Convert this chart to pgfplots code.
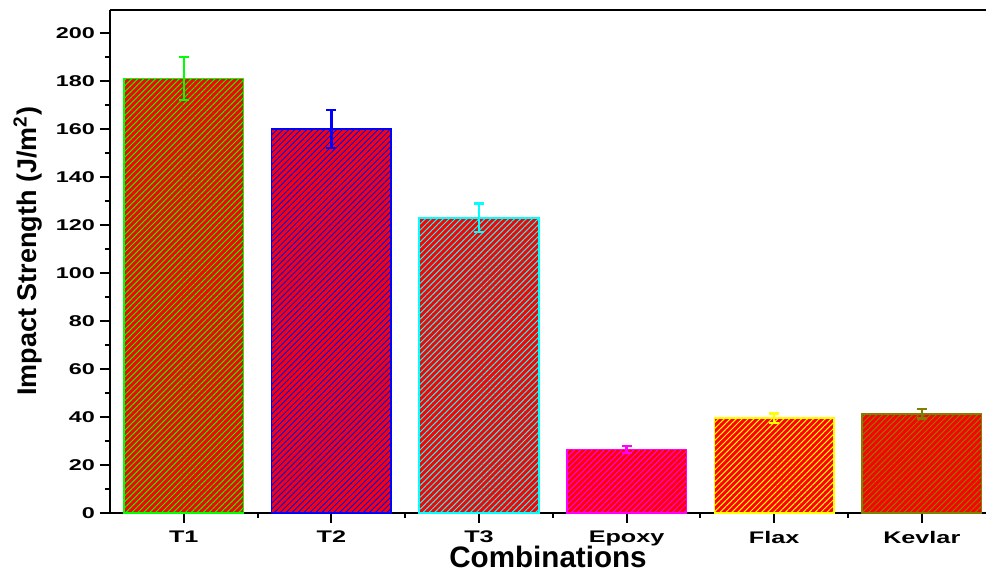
\documentclass[border=0pt]{standalone}
\usepackage{fontspec}
\setmainfont{Liberation Sans}
\newfontfamily\widefont[FakeStretch=1.5]{Liberation Sans}
\usepackage{pgfplots}
\pgfplotsset{compat=1.18}
\usetikzlibrary{patterns.meta}
\definecolor{cgreen}{RGB}{0,255,0}
\definecolor{cblue}{RGB}{0,0,255}
\definecolor{ccyan}{RGB}{0,255,255}
\definecolor{cmag}{RGB}{255,0,255}
\definecolor{cyel}{RGB}{255,255,0}
\definecolor{colive}{RGB}{128,128,0}
\definecolor{cred}{RGB}{255,0,0}
\pgfplotsset{
  hbar/.style={ybar, bar width=0.81, bar shift=0pt, draw=#1, line width=0.8pt, fill=cred,
    postaction={pattern={Lines[angle=45,distance=2.1pt,line width=0.5pt]}, pattern color=#1},
    error bars/.cd, y dir=both, y explicit,
    error bar style={draw=#1, line width=1.2pt},
    error mark options={rotate=90, draw=#1, line width=1.2pt, mark size=2.5pt}},
}
\begin{document}
\begin{tikzpicture}
\path[use as bounding box] (-55pt,-30pt) rectangle (438.5pt,256.5pt);
\begin{axis}[
  at={(0,0)}, anchor=south west,
  scale only axis, width=438pt, height=251.5pt,
  xmin=-0.5, xmax=5.435, ymin=0, ymax=209.6,
  axis x line*=bottom, axis y line*=left,
  axis line style={line width=1pt},
  tick align=outside,
  major tick length=5pt, minor tick length=2.5pt,
  every tick/.style={line width=1pt, black},
  ytick={0,20,...,200}, minor ytick={10,30,...,190},
  xtick={0,1,2,3,4,5}, minor xtick={0.5,1.5,...,4.5},
  xticklabels={T1,T2,T3,Epoxy,Flax,Kevlar},
  /pgf/number format/assume math mode=true,
  yticklabel style={font=\widefont\fontsize{7.8}{9}\selectfont\bfseries, xshift=1pt},
  xticklabel style={font=\widefont\fontsize{8.4}{10}\selectfont\bfseries, yshift=-0.5pt},
  xlabel={\fontsize{14.8}{15}\selectfont\bfseries Combinations},
  xlabel style={at={(rel axis cs:0.5,0)}, anchor=base, yshift=-27.5pt},
  ylabel={\fontsize{13.5}{15}\selectfont\bfseries Impact Strength (J/m\textsuperscript{2})},
  ylabel style={at={(rel axis cs:0,0.52)}, anchor=center, yshift=41pt},
  clip=false,
]
\draw[line width=1pt] (rel axis cs:0,1) -- (rel axis cs:1,1);
\addplot[hbar=cgreen] coordinates {(0,181) +- (0,9)};
\addplot[hbar=cblue] coordinates {(1,160) +- (0,8)};
\addplot[hbar=ccyan] coordinates {(2,123) +- (0,6)};
\addplot[hbar=cmag] coordinates {(3,26.5) +- (0,1.5)};
\addplot[hbar=cyel] coordinates {(4,39.5) +- (0,2)};
\addplot[hbar=colive] coordinates {(5,41.3) +- (0,2)};
\end{axis}
\end{tikzpicture}
\end{document}
